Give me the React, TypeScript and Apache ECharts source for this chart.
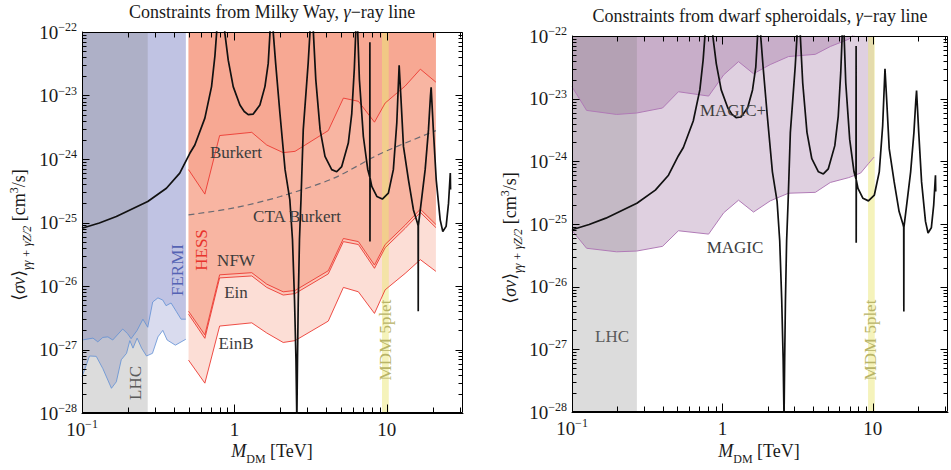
import React, { useEffect, useRef } from 'react';
import * as echarts from 'echarts';

const SERIF = '"Liberation Serif", "DejaVu Serif", "Times New Roman", serif';
// y values are plotted in units of 1e-28 cm^3/s (ECharts log axis rounds tiny numbers)
const Y_UNIT = 1e-28;
const Y_EXP0 = -28;
const X_MIN = 0.1;
const X_MAX = 31.62;
const Y_MIN = 1e-28;
const Y_MAX = 1e-22;

// axis tick values
const xMajorTicks = [0.1, 1, 10];
const xMinorTicks = [0.2, 0.3, 0.4, 0.5, 0.6, 0.7, 0.8, 0.9, 2, 3, 4, 5, 6, 7, 8, 9, 20, 30];
const yDecades = [-28, -27, -26, -25, -24, -23, -22];
const yMinorMultipliers = [2, 3, 4, 5, 6, 7, 8, 9];

// vertical bands [TeV]
const lhcRange = [0.1, 0.27];
const mdmRange = [9.3, 10.3];

// theory: 5plet <sigma v>_{gg + gZ/2} [M (TeV), cm^3/s]
const wimpCurve: [number, number][] = [
  [0.10, 8.1e-26], [0.13, 9.8e-26], [0.168, 1.24e-25], [0.27, 2.14e-25], [0.358, 3.47e-25],
  [0.438, 6.0e-25], [0.51, 1.23e-24], [0.55, 1.66e-24], [0.64, 4.4e-24], [0.708, 1.38e-23],
  [0.745, 4.2e-23], [0.764, 9.5e-23], [0.81, 1e-21], [0.866, 9.5e-23], [0.911, 3.6e-23],
  [0.982, 1.38e-23], [1.087, 7.1e-24], [1.16, 5.6e-24], [1.232, 5.0e-24], [1.329, 5.1e-24],
  [1.47, 7.1e-24], [1.586, 1.38e-23], [1.667, 3.2e-23], [1.711, 9.5e-23], [1.756, 1e-21],
  [1.80, 9.5e-23], [1.865, 3.2e-23], [1.99, 5.2e-24], [2.15, 6.8e-25], [2.31, 2.3e-25],
  [2.405, 5.4e-26], [2.48, 6.0e-27], [2.535, 6.9e-28], [2.565, 1.0e-28], [2.568, 1e-30],
  [2.572, 1.0e-28], [2.594, 6.9e-28], [2.625, 6.0e-27], [2.673, 5.4e-26], [2.735, 2.3e-25],
  [2.83, 2.9e-24], [3.05, 3.3e-23], [3.13, 9.5e-23], [3.17, 1e-21], [3.30, 9.5e-23],
  [3.42, 1.78e-23], [3.65, 2.9e-24], [3.93, 1.1e-24], [4.35, 6.8e-25], [4.69, 6.3e-25],
  [5.06, 7.6e-25], [5.59, 1.78e-24], [5.89, 5.2e-24], [6.12, 2.6e-23], [6.25, 9.5e-23],
  [6.31, 1e-21], [6.45, 9.5e-23], [6.61, 1.78e-23], [7.02, 2.24e-24], [7.50, 6.8e-25],
  [7.73, 5.2e-25], [7.745, 6.9e-23], [7.755, 5.0e-26], [7.77, 5.0e-25], [7.97, 3.7e-25],
  [8.60, 2.57e-25], [9.35, 2.34e-25], [10.24, 2.9e-25], [11.04, 6.8e-25], [11.63, 3.7e-24],
  [12.05, 3.0e-23], [12.36, 9.8e-24], [12.86, 1.58e-24], [13.87, 4.7e-25], [14.96, 1.58e-25],
  [15.89, 9.8e-26], [16.05, 8.9e-26], [16.08, 4.0e-27], [16.11, 8.9e-26], [17.0, 2.57e-25],
  [17.85, 6.8e-25], [18.77, 2.9e-24], [19.34, 9.8e-24], [19.54, 1.35e-23], [20.2, 2.9e-24],
  [21.1, 4.7e-25], [22.4, 1.1e-25], [23.3, 7.2e-26], [24.5, 8.7e-26], [25.4, 2.0e-25],
  [26.1, 6.0e-25], [26.2, 3.3e-25],
];

// HESS bounds (Milky Way)
const hessMass = [0.5, 0.64, 0.80, 1.30, 1.63, 2.09, 2.50, 4.13, 5.19, 6.51, 8.3, 9.75, 13.2, 16.6, 21];
const hessBurkert = [6.8e-25, 2.8e-25, 2.34e-24, 2.63e-24, 1.66e-24, 1.26e-24, 1.32e-24, 2.8e-24, 9.1e-24, 8.1e-24, 3.8e-24, 7.6e-24, 1.41e-23, 2.6e-23, 1.62e-23];
const hessNFW = [4.0e-27, 1.7e-27, 1.5e-26, 1.62e-26, 1.07e-26, 8.1e-27, 8.5e-27, 1.74e-26, 5.6e-26, 5.0e-26, 2.14e-26, 4.5e-26, 9.1e-26, 1.62e-25, 9.3e-26];
const hessEin = [3.6e-27, 1.5e-27, 1.34e-26, 1.44e-26, 9.5e-27, 7.2e-27, 7.6e-27, 1.55e-26, 5.0e-26, 4.5e-26, 1.9e-26, 4.0e-26, 8.1e-26, 1.44e-25, 8.3e-26];
const hessEinB = [6.8e-28, 2.95e-28, 2.34e-27, 2.63e-27, 1.82e-27, 1.29e-27, 1.38e-27, 2.8e-27, 9.5e-27, 8.1e-27, 3.7e-27, 8.7e-27, 1.58e-26, 2.6e-26, 1.7e-26];

// CTA Burkert projection
const ctaMass = [0.5, 1.0, 2.0, 4.5, 9.0, 21];
const ctaBurkert = [1.32e-25, 1.7e-25, 2.57e-25, 5.0e-25, 1.2e-24, 2.8e-24];

// FERMI bounds
const fermiUpper: [number, number][] = [
  [0.1, 1.41e-27], [0.118, 1.51e-27], [0.127, 1.32e-27], [0.137, 1.55e-27], [0.148, 1.58e-27],
  [0.159, 1.41e-27], [0.185, 2.1e-27], [0.199, 1.78e-27], [0.21, 1.48e-27], [0.23, 2.0e-27],
  [0.251, 3.0e-27], [0.27, 2.24e-27], [0.291, 5.6e-27], [0.315, 6.5e-27], [0.339, 6.0e-27],
  [0.356, 4.9e-27], [0.384, 5.4e-27], [0.415, 4.0e-27], [0.447, 3.0e-27], [0.48, 3.0e-27],
];
const fermiLower: [number, number][] = [
  [0.1, 3.7e-28], [0.112, 7.9e-28], [0.124, 7.8e-28], [0.137, 5.0e-28], [0.156, 2.45e-28],
  [0.168, 3.1e-28], [0.181, 6.9e-28], [0.196, 8.7e-28], [0.206, 1.38e-27], [0.216, 1.05e-27],
  [0.23, 1.51e-27], [0.246, 1.05e-27], [0.265, 7.9e-28], [0.29, 8.7e-28], [0.315, 1.58e-27],
  [0.339, 2.0e-27], [0.362, 1.41e-27], [0.41, 1.17e-27], [0.48, 1.45e-27],
];

// MAGIC bounds (dwarf spheroidals)
const magicPlus: [number, number][] = [
  [0.1, 1.55e-23], [0.125, 6.5e-24], [0.198, 5.6e-24], [0.269, 5.9e-24], [0.40, 7.1e-24],
  [0.51, 1.29e-23], [0.81, 1.1e-23], [1.02, 2.4e-23], [1.28, 3.9e-23], [1.61, 2.5e-23],
  [2.08, 3.5e-23], [2.75, 4.7e-23], [4.15, 5.1e-23], [5.22, 6.8e-23], [6.92, 8.9e-23],
  [7.6, 1.12e-22],
];
const magic: [number, number][] = [
  [0.1, 7.9e-26], [0.125, 4.1e-26], [0.198, 3.6e-26], [0.269, 3.7e-26], [0.40, 4.4e-26],
  [0.51, 7.8e-26], [0.81, 6.9e-26], [1.02, 1.51e-25], [1.28, 2.4e-25], [1.61, 1.55e-25],
  [2.08, 2.34e-25], [2.75, 3.1e-25], [4.15, 3.2e-25], [5.22, 4.6e-25], [6.92, 5.5e-25],
  [8.3, 6.5e-25], [9.4, 9.3e-25], [10.2, 1.17e-24],
];

// convert cm^3/s to plotting unit
const u = (s: number) => s / Y_UNIT;
const pts = (data: number[][]) => data.map(([m, s]) => [m, u(s)]);
const zip = (xs: number[], ys: number[]) => xs.map((x, i) => [x, ys[i]]);

const HESS_FILL = 'rgba(244,137,109,0.28)';
const HESS_LINE = '#ec3a32';
const FERMI_FILL = 'rgba(143,149,205,0.34)';
const FERMI_LINE = '#5f8fd4';
const MAGIC_FILL = 'rgba(141,87,144,0.28)';
const MAGIC_LINE = '#b07ab6';
const LHC_FILL = 'rgba(125,125,125,0.27)';
const MDM_FILL = 'rgba(236,232,120,0.5)';

const GRIDS = [
  { left: 82, top: 32, width: 381, height: 381 },
  { left: 572, top: 36, width: 376, height: 376 },
];

function areaLine(g: number, data: number[][], line: string | null, fill: string | null, width = 0.9) {
  const s: any = {
    type: 'line', xAxisIndex: g, yAxisIndex: g, data: pts(data), symbol: 'none', silent: true, z: 2,
    lineStyle: line ? { color: line, width } : { width: 0, opacity: 0 },
  };
  if (fill) s.areaStyle = { color: fill, origin: 'end', opacity: 1 };
  return s;
}

function band(g: number, range: number[], fill: string) {
  return areaLine(g, [[range[0], Y_MIN], [range[1], Y_MIN]], null, fill);
}

const yMajorTicks = yDecades.map((e) => Math.pow(10, e));
const yMinorTicks = yDecades.slice(0, -1).flatMap((e) => yMinorMultipliers.map((m) => m * Math.pow(10, e)));

const tickRich = {
  b: { fontSize: 19, fontFamily: SERIF, color: '#1a1a1a', lineHeight: 22 },
  s: { fontSize: 12, fontFamily: SERIF, color: '#1a1a1a', lineHeight: 12, verticalAlign: 'top' },
};

function expOf(v: number) {
  const l = Math.log10(v);
  const e = Math.round(l);
  return Math.abs(l - e) < 1e-6 ? e : null;
}
const xFmt = (v: number) => {
  const e = expOf(v);
  if (e === null) return '';
  if (e === 0) return '{b|1}';
  if (e === 1) return '{b|10}';
  return `{b|10}{s|${e < 0 ? '\u2212' : ''}${Math.abs(e)}}`;
};
const yFmt = (v: number) => {
  const e0 = expOf(v);
  if (e0 === null) return '';
  const e = e0 + Y_EXP0;
  return `{b|10}{s|${e < 0 ? '\u2212' : ''}${Math.abs(e)}}`;
};

function mkX(g: number) {
  return {
    type: 'log', logBase: 10, gridIndex: g, min: X_MIN, max: X_MAX,
    axisLine: { show: true, onZero: false, lineStyle: { color: '#000', width: 1 } },
    axisTick: { show: false }, splitLine: { show: false },
    minorTick: { show: false }, minorSplitLine: { show: false },
    axisLabel: { formatter: xFmt, rich: tickRich, margin: 5, showMaxLabel: false },
  };
}
function mkY(g: number) {
  return {
    type: 'log', logBase: 10, gridIndex: g, min: u(Y_MIN), max: u(Y_MAX),
    axisLine: { show: true, onZero: false, lineStyle: { color: '#000', width: 1 } },
    axisTick: { show: false }, splitLine: { show: false },
    minorTick: { show: false }, minorSplitLine: { show: false },
    axisLabel: { formatter: yFmt, rich: tickRich, margin: 5 },
  };
}

function label(x: number, y: number, text: string, color: string, opts: any = {}) {
  return {
    type: 'text', x, y, rotation: opts.rot ? Math.PI / 2 : 0, z: 100, silent: true,
    style: {
      text, fill: color, fontSize: opts.size || 17, fontFamily: SERIF, fontStyle: opts.italic ? 'italic' : 'normal',
      align: 'center', verticalAlign: 'middle', textAlign: 'center', textVerticalAlign: 'middle',
      rich: opts.rich,
    },
  };
}

const nameRich = {
  n: { fontSize: 18, fontFamily: SERIF, color: '#1a1a1a', lineHeight: 22 },
  i: { fontSize: 18, fontFamily: SERIF, color: '#1a1a1a', fontStyle: 'italic', lineHeight: 22 },
  sub: { fontSize: 12, fontFamily: SERIF, color: '#1a1a1a', fontStyle: 'italic', lineHeight: 12, verticalAlign: 'bottom', padding: [0, 0, -3, 0] },
  subn: { fontSize: 12, fontFamily: SERIF, color: '#1a1a1a', lineHeight: 12, verticalAlign: 'bottom', padding: [0, 0, -3, 0] },
  sup: { fontSize: 12, fontFamily: SERIF, color: '#1a1a1a', lineHeight: 12, verticalAlign: 'top' },
};
const yName = '{n|\u27E8}{i|\u03C3v}{n|\u27E9}{sub|\u03B3\u03B3 + \u03B3Z/2}{n| [cm}{sup|3}{n|/s]}';
const xName = '{i|M}{subn|DM}{n| [TeV]}';
const titleRich = {
  n: { fontSize: 18, fontFamily: SERIF, color: '#1a1a1a' },
  i: { fontSize: 18, fontFamily: SERIF, color: '#1a1a1a', fontStyle: 'italic' },
};

function makeLabels() {
  return [
    label(272, 12, '{n|Constraints from Milky Way, }{i|\u03B3}{n|\u2212ray line}', '#1a1a1a', { rich: titleRich }),
    label(760, 16, '{n|Constraints from dwarf spheroidals, }{i|\u03B3}{n|\u2212ray line}', '#1a1a1a', { rich: titleRich }),
    label(19, 235, yName, '#1a1a1a', { rot: true, rich: nameRich }),
    label(510, 238, yName, '#1a1a1a', { rot: true, rich: nameRich }),
    label(272, 451, xName, '#1a1a1a', { rich: nameRich }),
    label(759, 451, xName, '#1a1a1a', { rich: nameRich }),
    label(236, 152, 'Burkert', '#3c3c3c'),
    label(297, 216, 'CTA Burkert', '#3c3c3c'),
    label(236, 260, 'NFW', '#3c3c3c'),
    label(236, 292, 'Ein', '#3c3c3c'),
    label(236, 343, 'EinB', '#3c3c3c'),
    label(201, 250, 'HESS', '#e8332c', { rot: true }),
    label(177, 270, 'FERMI', '#5563b4', { rot: true }),
    label(135, 383, 'LHC', '#5a5a5a', { rot: true }),
    label(385, 340, 'MDM 5plet', '#b9b468', { rot: true }),
    label(733, 110, 'MAGIC+', '#3c3c3c'),
    label(735, 247, 'MAGIC', '#3c3c3c'),
    label(612, 336, 'LHC', '#5a5a5a'),
    label(870, 340, 'MDM 5plet', '#b9b468', { rot: true }),
  ];
}

export default function App() {
  const ref = useRef<HTMLDivElement>(null);
  useEffect(() => {
    if (!ref.current) return;
    const chart = echarts.init(ref.current, undefined, { renderer: 'svg' });
    const left = [
      areaLine(0, fermiLower, FERMI_LINE, FERMI_FILL, 0.8),
      areaLine(0, fermiUpper, FERMI_LINE, FERMI_FILL, 0.8),
      band(0, lhcRange, LHC_FILL),
      areaLine(0, zip(hessMass, hessEinB), HESS_LINE, HESS_FILL),
      areaLine(0, zip(hessMass, hessEin), HESS_LINE, HESS_FILL),
      areaLine(0, zip(hessMass, hessNFW), HESS_LINE, HESS_FILL),
      areaLine(0, zip(hessMass, hessBurkert), HESS_LINE, HESS_FILL),
      band(0, mdmRange, MDM_FILL),
      { type: 'line', xAxisIndex: 0, yAxisIndex: 0, data: pts(zip(ctaMass, ctaBurkert)), symbol: 'none', silent: true, z: 3, smooth: 0.3,
        lineStyle: { color: '#6a6a72', width: 1.2, type: [6, 4] } },
      { type: 'line', xAxisIndex: 0, yAxisIndex: 0, data: pts(wimpCurve), symbol: 'none', silent: true, z: 4,
        lineStyle: { color: '#111', width: 1.7 } },
    ];
    const right = [
      areaLine(1, magic, MAGIC_LINE, MAGIC_FILL, 1),
      areaLine(1, magicPlus, MAGIC_LINE, MAGIC_FILL, 1),
      band(1, lhcRange, LHC_FILL),
      band(1, mdmRange, MDM_FILL),
      { type: 'line', xAxisIndex: 1, yAxisIndex: 1, data: pts(wimpCurve), symbol: 'none', silent: true, z: 4,
        lineStyle: { color: '#111', width: 1.7 } },
    ];
    chart.setOption({
      animation: false,
      grid: GRIDS.map((g) => ({ ...g, show: false })),
      xAxis: [mkX(0), mkX(1)],
      yAxis: [mkY(0), mkY(1)],
      series: [...left, ...right],
    });

    // frame and inward ticks, placed through the axes' scales
    const frame: any[] = [];
    const stroke = { stroke: '#000', lineWidth: 1 };
    const snap = (v: number) => Math.round(v) + 0.5;
    GRIDS.forEach((gr, g) => {
      let L = gr.left + 0.5, T = gr.top + 0.5, R = gr.left + gr.width - 0.5, B = gr.top + gr.height - 0.5;
      frame.push({ type: 'rect', z: 90, silent: true, shape: { x: L, y: T, width: R - L, height: B - T }, style: { fill: 'none', stroke: '#000', lineWidth: 1 } });
      try {
        const toPx = (x: number, y: number) => chart.convertToPixel({ gridIndex: g } as any, [x, u(y)]) as number[];
        const xt = (v: number, len: number) => {
          const p = toPx(v, Y_MIN);
          if (!p || !isFinite(p[0])) return;
          const x = snap(p[0]);
          frame.push({ type: 'line', z: 90, silent: true, shape: { x1: x, y1: B, x2: x, y2: B - len }, style: stroke });
          frame.push({ type: 'line', z: 90, silent: true, shape: { x1: x, y1: T, x2: x, y2: T + len }, style: stroke });
        };
        const yt = (v: number, len: number) => {
          const p = toPx(X_MIN, v);
          if (!p || !isFinite(p[1])) return;
          const y = snap(p[1]);
          frame.push({ type: 'line', z: 90, silent: true, shape: { x1: L, y1: y, x2: L + len, y2: y }, style: stroke });
          frame.push({ type: 'line', z: 90, silent: true, shape: { x1: R, y1: y, x2: R - len, y2: y }, style: stroke });
        };
        xMajorTicks.forEach((v) => xt(v, 8));
        xMinorTicks.forEach((v) => xt(v, 5));
        yMajorTicks.forEach((v) => yt(v, 7));
        yMinorTicks.forEach((v) => yt(v, 4));
      } catch (e) {
        // keep the frame even if ticks cannot be placed
      }
    });
    chart.setOption({ graphic: [...makeLabels(), ...frame] });
    return () => chart.dispose();
  }, []);
  return <div ref={ref} style={{ position: 'absolute', left: 0, top: 0, width: 951, height: 470 }} />;
}
